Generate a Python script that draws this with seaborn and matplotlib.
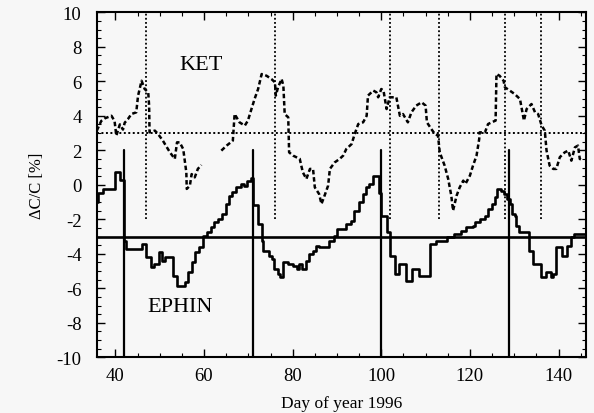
import matplotlib
matplotlib.use("Agg")
import matplotlib.pyplot as plt
import seaborn as sns
import pandas as pd
import numpy as np
from matplotlib.ticker import MultipleLocator

# ---------------- data ----------------
ket1_day = [35.8, 36.8, 37.6, 39.1, 39.8, 40.2, 41.0, 41.7, 42.1, 42.8, 43.6, 44.7, 45.1, 45.9,
            46.6, 47.4, 47.6, 47.7, 48.9, 49.6, 50.7, 52.3, 53.4, 53.9, 54.5, 55.3, 56.0, 56.1,
            56.8, 57.2, 57.9, 58.6, 59.4]
ket1_val = [3.14, 3.7, 3.85, 4.0, 3.7, 2.85, 3.5, 3.2, 3.6, 3.8, 4.1, 4.2, 5.15, 6.03,
            5.55, 5.36, 4.6, 3.04, 3.14, 2.95, 2.56, 1.88, 1.5, 2.46, 2.46, 2.07, 0.72, -0.24,
            -0.05, 0.62, 0.43, 0.92, 1.15]

ket2_day = [63.9, 65.1, 66.5, 66.9, 68.0, 69.2, 69.9, 70.7, 71.4, 72.2, 73.0, 74.1, 75.2, 76.0,
            76.2, 76.7, 77.5, 77.9, 78.2, 79.0, 79.2, 80.1, 81.6, 82.3, 83.1, 83.9, 84.6, 85.0,
            85.96, 86.5, 87.2, 88.0, 88.4, 89.5, 90.6, 91.4, 92.1, 93.3, 94.0, 94.8, 95.9, 96.7,
            97.0, 98.2, 98.9, 99.3, 100.0, 100.5, 101.2, 101.9, 103.4, 104.2, 104.9, 106.0, 106.8,
            107.9, 109.1, 110.0, 110.3, 111.3, 112.1, 112.8, 113.2, 114.3, 115.1, 115.8, 116.2,
            117.0, 117.7, 118.5, 119.0, 120.0, 120.7, 121.5, 122.1, 122.2, 123.4, 124.1, 124.9,
            125.8, 126.0, 126.7, 127.6, 127.9, 129.0, 130.1, 131.3, 132.2, 132.8, 133.9, 134.7,
            135.4, 136.2, 136.9, 137.3, 138.0, 138.8, 139.5, 140.3, 141.4, 142.2, 142.9, 143.7,
            144.4, 144.8, 145.6]
ket2_val = [1.98, 2.27, 2.56, 4.1, 3.62, 3.43, 3.72, 4.39, 4.97, 5.55, 6.42, 6.32, 6.13, 5.94,
            5.17, 5.65, 6.13, 5.75, 4.1, 3.91, 1.88, 1.69, 1.5, 0.72, 0.34, 0.92, 0.92, -0.15,
            -0.53, -1.11, -0.63, -0.05, 0.92, 1.3, 1.5, 1.69, 2.07, 2.36, 2.94, 3.52, 3.62, 4.0,
            5.17, 5.46, 5.36, 5.07, 5.55, 5.46, 4.39, 5.07, 5.07, 4.0, 4.1, 3.62, 4.2,
            4.59, 4.78, 4.59, 3.62, 3.23, 2.94, 2.85, 1.88, 1.11, 0.34, -0.63, -1.5,
            -0.63, -0.15, 0.24, 0.05, 0.53, 1.11, 1.69, 2.65, 3.04, 3.04, 3.52, 3.62,
            3.72, 6.42, 6.32, 6.03, 5.65, 5.46, 5.26, 4.97, 3.72, 4.39, 4.68, 4.2,
            4.1, 3.43, 3.14, 1.98, 1.11, 0.92, 0.92, 1.6, 1.88, 1.98, 1.4, 2.17,
            2.27, 1.5, 1.4]

ephin_day = [35.8, 36.0, 37.2, 40.0, 41.1, 42.0, 42.4, 46.0, 46.9, 48.0,
             48.8, 49.8, 50.6, 51.1, 52.9, 53.8, 55.6, 56.4, 57.3, 58.0,
             58.9, 59.7, 60.7, 61.5, 62.3, 63.1, 64.1, 65.0, 65.7, 66.4,
             67.2, 68.3, 69.1, 69.8, 70.5, 71.0, 72.1, 73.0, 73.4, 74.6,
             75.4, 75.9, 76.6, 77.2, 77.8, 78.9, 80.0, 81.0, 81.5, 82.2,
             83.0, 83.8, 84.5, 85.3, 86.0, 88.2, 89.3, 90.1, 92.0, 93.2,
             93.9, 95.0, 95.8, 96.6, 97.3, 98.1, 99.5, 100.0, 101.3, 102.0,
             103.1, 104.0, 105.6, 107.0, 108.5, 111.1, 112.4, 114.8, 116.4, 118.0,
             119.2, 120.6, 121.1, 122.2, 123.4, 124.1, 124.9, 125.6, 126.2, 127.1,
             127.8, 128.3, 129.0, 129.4, 130.1, 130.5, 131.0, 133.3, 134.2, 136.0,
             137.2, 138.2, 138.8, 139.4, 140.7, 141.9, 142.8, 143.6, 146.2]
ephin_val = [-1.0, -0.45, -0.24, 0.72, 0.30, -3.25, -3.72, -3.43, -4.2, -4.78,
             -4.59, -3.88, -4.4, -4.2, -5.27, -5.85, -5.66, -5.07, -4.49, -3.91,
             -3.62, -2.95, -2.75, -2.46, -2.17, -1.98, -1.69, -1.11, -0.63, -0.44,
             -0.15, 0.05, -0.05, 0.2, 0.4, -1.2, -2.27, -3.24, -3.82, -4.11,
             -4.3, -4.88, -5.17, -5.36, -4.49, -4.59, -4.69, -4.88, -4.59, -4.88,
             -4.4, -4.01, -3.82, -3.53, -3.62, -3.24, -2.95, -2.56, -2.27, -2.08,
             -1.5, -1.02, -0.53, -0.15, 0.05, 0.53, -0.5, -1.79, -2.75, -4.11,
             -5.17, -4.59, -5.56, -4.88, -5.27, -3.43, -3.24, -3.04, -2.85, -2.66,
             -2.46, -2.37, -2.17, -1.98, -1.79, -1.4, -1.11, -0.72, -0.24, -0.34,
             -0.53, -0.82, -1.11, -1.69, -1.79, -2.37, -2.75, -3.82, -4.59, -5.36,
             -5.07, -5.36, -5.17, -3.62, -4.11, -3.53, -3.04, -2.85, -2.75]

ket_events = [47, 76, 102, 113, 128, 136]      # dotted vertical markers
ephin_events = [42, 71, 100, 128.8]            # solid vertical markers
ket_ref = 3
ephin_ref = -3
xticks = [40, 60, 80, 100, 120, 140]
yticks = [-10, -8, -6, -4, -2, 0, 2, 4, 6, 8, 10]

# ---------------- style ----------------
sns.set_theme(style="ticks")
plt.rcParams["font.family"] = ["Liberation Serif", "DejaVu Serif"]
plt.rcParams["axes.unicode_minus"] = False
plt.rcParams["text.color"] = "black"
plt.rcParams["axes.labelcolor"] = "black"
plt.rcParams["xtick.color"] = "black"
plt.rcParams["ytick.color"] = "black"
bg = "#f7f7f7"

fig = plt.figure(figsize=(5.94, 4.14), dpi=100, facecolor=bg)
ax = fig.add_axes([0.163, 0.1345, 0.8235, 0.8335], facecolor=bg)

ket_df = pd.DataFrame({
    "day": ket1_day + ket2_day,
    "val": ket1_val + ket2_val,
    "seg": [1] * len(ket1_day) + [2] * len(ket2_day),
})
ephin_df = pd.DataFrame({"day": ephin_day, "val": ephin_val})

# reference lines
ax.axhline(ket_ref, color="black", lw=1.4, ls=(0, (1, 1.3)), zorder=1)
ax.axhline(ephin_ref, color="black", lw=1.9, zorder=1)
for d in ket_events:
    ax.plot([d, d], [-2, 10], color="black", lw=1.3, ls=(0, (1, 1.3)), zorder=1)
for d in ephin_events:
    ax.plot([d, d], [-10, 2], color="black", lw=1.6, zorder=1)

sns.lineplot(data=ket_df, x="day", y="val", units="seg", estimator=None, sort=False,
             color="black", lw=1.8, ls=(0, (1.8, 1.1)), ax=ax, legend=False)
sns.lineplot(data=ephin_df, x="day", y="val", estimator=None, sort=False,
             color="black", lw=1.9, drawstyle="steps-post", ax=ax, legend=False)

ax.text(59.4, 6.95, "KET", fontsize=16, ha="center", va="center")
ax.text(54.5, -7.05, "EPHIN", fontsize=16, ha="center", va="center")

ax.set_xlim(35.8, 146.2)
ax.set_ylim(-10, 10)
ax.set_xticks(xticks)
ax.set_yticks(yticks)
ax.xaxis.set_minor_locator(MultipleLocator(5))
ax.yaxis.set_minor_locator(MultipleLocator(0.5))
ax.tick_params(which="both", direction="in", top=True, right=True, colors="black")
ax.tick_params(which="major", length=6, width=1.0, labelsize=13.5)
ax.tick_params(which="minor", length=3, width=0.8)
ax.tick_params(axis="y", which="major", pad=11)
ax.tick_params(axis="x", which="major", pad=7)
for s in ax.spines.values():
    s.set_color("black")
    s.set_linewidth(1.5)

ax.set_xlabel("Day of year 1996", fontsize=12.5, labelpad=8)
ax.set_ylabel("ΔC/C [%]", fontsize=12, labelpad=8)

fig.savefig("out.png", dpi=100, facecolor=bg)
